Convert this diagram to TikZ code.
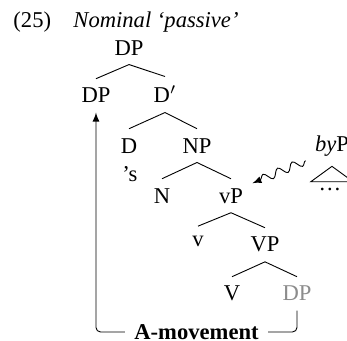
\documentclass[tikz,border=0pt]{standalone}
\usepackage{fontspec}
\setmainfont{Liberation Serif}
\usetikzlibrary{decorations.pathmorphing}

\begin{document}
\begin{tikzpicture}[
  cat/.style={anchor=base, inner sep=4pt},
  gapped/.style={black!45}
]
  \useasboundingbox (0,0) rectangle (5.398,-5.304);

  % example number and title
  \node[anchor=base west, inner sep=0pt] (exnum) at (0.202,-0.420) {(25)};
  \node[anchor=base west, inner sep=0pt] (title) at (1.136,-0.420) {\textit{Nominal `passive'}};

  % tree
  \node[cat] (DPtop) at (2.007,-0.856) {DP};
  \node[cat] (DPspec) at (1.493,-1.602) {DP};
  \node[cat] (Dbar) at (2.567,-1.602) {D$'$};
  \node[cat] (D) at (2.007,-2.380) {D};
  \node[cat] (Dpos) at (2.022,-2.831) {'s};
  \node[cat] (NP) at (3.064,-2.380) {NP};
  \node[cat] (N) at (2.520,-3.158) {N};
  \node[cat] (vP) at (3.593,-3.158) {vP};
  \node[cat] (v) at (3.080,-3.827) {v};
  \node[cat] (VP) at (4.122,-3.920) {VP};
  \node[cat] (V) at (3.609,-4.682) {V};
  \node[cat, gapped] (DPlow) at (4.620,-4.682) {DP};

  \foreach \mother/\daughter in {DPtop/DPspec, DPtop/Dbar, Dbar/D, Dbar/NP,
      NP/N, NP/vP, vP/v, vP/VP, VP/V, VP/DPlow}
    \draw (\mother.south) -- (\daughter.north);

  % adjoined byP
  \node[cat] (byP) at (5.164,-2.364) {\textit{by}P};
  \draw (byP.south) -- ++(-0.33,-0.24) -- ++(0.66,0) -- cycle;
  \node[cat] (dots) at (5.133,-2.971) {\dots};
  \draw[-latex, decorate, decoration={snake, amplitude=1.8pt, segment length=7pt, post length=3pt}]
    ([yshift=2.5pt]byP.south west) -- ([yshift=-2pt]vP.north east);

  % movement
  \node[font=\bfseries, inner sep=4pt] (amov) at (3.057,-5.164) {A-movement};
  \draw[rounded corners=2pt] (DPlow.south) |- (amov.east);
  \draw[-latex, rounded corners=2pt] (amov.west) -| (DPspec.south);

\end{tikzpicture}
\end{document}
